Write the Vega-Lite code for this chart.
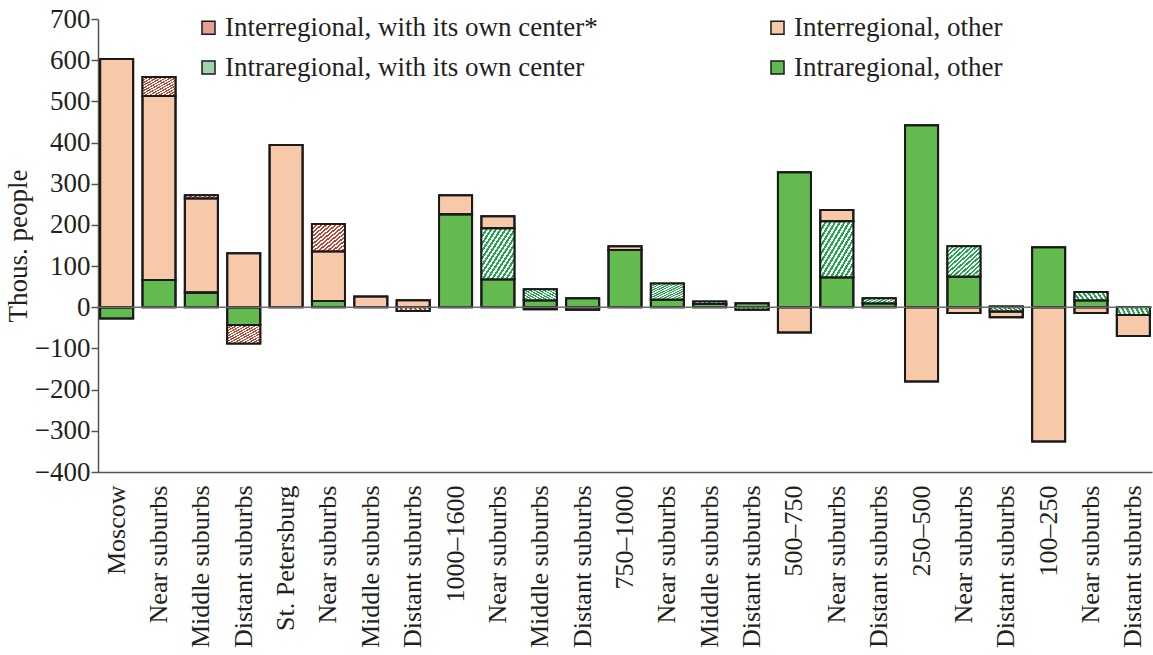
{
  "$schema": "https://vega.github.io/schema/vega-lite/v6.json",
  "autosize": {"type": "none"},
  "padding": {"left": 98, "top": 19, "right": 1, "bottom": 183},
  "width": 1054,
  "height": 453,
  "background": "white",
  "config": {
    "font": "Liberation Serif",
    "view": {"stroke": null},
    "axis": {"labelColor": "#231f20", "titleColor": "#231f20", "domainColor": "#555555", "tickColor": "#555555", "grid": false}
  },
  "data": {
    "values": [
      {"i": 0, "cat": "Intraregional, other", "ord": 1, "v": -27},
      {"i": 0, "cat": "Interregional, other", "ord": 3, "v": 603},
      {"i": 1, "cat": "Intraregional, other", "ord": 1, "v": 66},
      {"i": 1, "cat": "Interregional, other", "ord": 3, "v": 447},
      {"i": 1, "cat": "Interregional, with its own center*", "ord": 4, "v": 46},
      {"i": 2, "cat": "Intraregional, other", "ord": 1, "v": 36},
      {"i": 2, "cat": "Interregional, other", "ord": 3, "v": 229},
      {"i": 2, "cat": "Interregional, with its own center*", "ord": 4, "v": 7},
      {"i": 3, "cat": "Interregional, other", "ord": 3, "v": 131},
      {"i": 3, "cat": "Intraregional, other", "ord": 1, "v": -43},
      {"i": 3, "cat": "Interregional, with its own center*", "ord": 4, "v": -45},
      {"i": 4, "cat": "Interregional, other", "ord": 3, "v": 394},
      {"i": 5, "cat": "Intraregional, other", "ord": 1, "v": 15},
      {"i": 5, "cat": "Interregional, other", "ord": 3, "v": 121},
      {"i": 5, "cat": "Interregional, with its own center*", "ord": 4, "v": 66},
      {"i": 6, "cat": "Interregional, other", "ord": 3, "v": 26},
      {"i": 7, "cat": "Interregional, other", "ord": 3, "v": 17},
      {"i": 7, "cat": "Interregional, with its own center*", "ord": 4, "v": -9},
      {"i": 8, "cat": "Intraregional, other", "ord": 1, "v": 226},
      {"i": 8, "cat": "Interregional, other", "ord": 3, "v": 46},
      {"i": 9, "cat": "Intraregional, other", "ord": 1, "v": 68},
      {"i": 9, "cat": "Intraregional, with its own center", "ord": 2, "v": 124},
      {"i": 9, "cat": "Interregional, other", "ord": 3, "v": 29},
      {"i": 10, "cat": "Intraregional, other", "ord": 1, "v": 17},
      {"i": 10, "cat": "Intraregional, with its own center", "ord": 2, "v": 27},
      {"i": 10, "cat": "Interregional, other", "ord": 3, "v": -5},
      {"i": 11, "cat": "Intraregional, other", "ord": 1, "v": 22},
      {"i": 11, "cat": "Interregional, other", "ord": 3, "v": -6},
      {"i": 12, "cat": "Intraregional, other", "ord": 1, "v": 139},
      {"i": 12, "cat": "Interregional, other", "ord": 3, "v": 9},
      {"i": 13, "cat": "Intraregional, other", "ord": 1, "v": 19},
      {"i": 13, "cat": "Intraregional, with its own center", "ord": 2, "v": 39},
      {"i": 14, "cat": "Intraregional, other", "ord": 1, "v": 8},
      {"i": 14, "cat": "Intraregional, with its own center", "ord": 2, "v": 6},
      {"i": 15, "cat": "Intraregional, other", "ord": 1, "v": 10},
      {"i": 15, "cat": "Intraregional, with its own center", "ord": 2, "v": -6},
      {"i": 16, "cat": "Intraregional, other", "ord": 1, "v": 328},
      {"i": 16, "cat": "Interregional, other", "ord": 3, "v": -61},
      {"i": 17, "cat": "Intraregional, other", "ord": 1, "v": 73},
      {"i": 17, "cat": "Intraregional, with its own center", "ord": 2, "v": 136},
      {"i": 17, "cat": "Interregional, other", "ord": 3, "v": 27},
      {"i": 18, "cat": "Intraregional, other", "ord": 1, "v": 10},
      {"i": 18, "cat": "Intraregional, with its own center", "ord": 2, "v": 12},
      {"i": 19, "cat": "Intraregional, other", "ord": 1, "v": 442},
      {"i": 19, "cat": "Interregional, other", "ord": 3, "v": -180},
      {"i": 20, "cat": "Intraregional, other", "ord": 1, "v": 75},
      {"i": 20, "cat": "Intraregional, with its own center", "ord": 2, "v": 73},
      {"i": 20, "cat": "Interregional, other", "ord": 3, "v": -14},
      {"i": 21, "cat": "Intraregional, other", "ord": 1, "v": 2},
      {"i": 21, "cat": "Intraregional, with its own center", "ord": 2, "v": -10},
      {"i": 21, "cat": "Interregional, other", "ord": 3, "v": -14},
      {"i": 22, "cat": "Intraregional, other", "ord": 1, "v": 146},
      {"i": 22, "cat": "Interregional, other", "ord": 3, "v": -326},
      {"i": 23, "cat": "Intraregional, other", "ord": 1, "v": 17},
      {"i": 23, "cat": "Intraregional, with its own center", "ord": 2, "v": 20},
      {"i": 23, "cat": "Interregional, other", "ord": 3, "v": -14},
      {"i": 24, "cat": "Intraregional, with its own center", "ord": 2, "v": -19},
      {"i": 24, "cat": "Interregional, other", "ord": 3, "v": -51}
    ]
  },
  "encoding": {
    "x": {
      "field": "i",
      "type": "ordinal",
      "scale": {"domain": [0,1,2,3,4,5,6,7,8,9,10,11,12,13,14,15,16,17,18,19,20,21,22,23,24], "paddingInner": 0.22, "paddingOuter": 0.05},
      "axis": {
        "title": null,
        "ticks": false,
        "labelAngle": -90,
        "labelAlign": "right",
        "labelBaseline": "middle",
        "labelPadding": 13,
        "labelFontSize": 26,
        "labelLimit": 300,
        "domainWidth": 1.5,
        "labelExpr": "['Moscow','Near suburbs','Middle suburbs','Distant suburbs','St. Petersburg','Near suburbs','Middle suburbs','Distant suburbs','1000–1600','Near suburbs','Middle suburbs','Distant suburbs','750–1000','Near suburbs','Middle suburbs','Distant suburbs','500–750','Near suburbs','Distant suburbs','250–500','Near suburbs','Distant suburbs','100–250','Near suburbs','Distant suburbs'][datum.value]"
      }
    },
    "y": {
      "field": "v",
      "type": "quantitative",
      "stack": "zero",
      "scale": {"domain": [-400, 700], "nice": false, "zero": false},
      "axis": {
        "title": "Thous. people",
        "titleFontSize": 27,
        "titleFontWeight": "normal",
        "titlePadding": 2,
        "values": [-400,-300,-200,-100,0,100,200,300,400,500,600,700],
        "labelFontSize": 27,
        "labelPadding": 1,
        "tickSize": 7,
        "tickWidth": 1.5,
        "domainWidth": 1.5
      }
    },
    "order": {"field": "ord", "type": "quantitative"}
  },
  "layer": [
    {
      "mark": {"type": "bar", "stroke": "#1a1a1a", "strokeWidth": 2},
      "encoding": {
        "fill": {
          "field": "cat",
          "type": "nominal",
          "scale": {
            "domain": ["Interregional, with its own center*", "Interregional, other", "Intraregional, with its own center", "Intraregional, other"],
            "range": ["#e3a090", "#f8c9a8", "#9ed4a8", "#63bb4f"]
          },
          "legend": {
            "title": null,
            "orient": "none",
            "direction": "horizontal",
            "legendX": 97,
            "legendY": -5,
            "columns": 2,
            "columnPadding": 166,
            "rowPadding": 12,
            "symbolType": "square",
            "symbolSize": 170,
            "symbolStrokeColor": "#1a1a1a",
            "symbolStrokeWidth": 1.5,
            "labelFontSize": 27,
            "labelColor": "#231f20",
            "labelOffset": 3,
            "labelLimit": 500,
            "encoding": {
              "symbols": {
                "update": {
                  "fill": [
                    {"test": "datum.value === 'Interregional, with its own center*'", "value": {"gradient": "linear", "x1": 0, "y1": 0, "x2": 1, "y2": 1, "stops": [
                      {"offset": 0, "color": "#c0432f"}, {"offset": 0.125, "color": "#c0432f"}, {"offset": 0.125, "color": "#ffffff"}, {"offset": 0.25, "color": "#ffffff"},
                      {"offset": 0.25, "color": "#c0432f"}, {"offset": 0.375, "color": "#c0432f"}, {"offset": 0.375, "color": "#ffffff"}, {"offset": 0.5, "color": "#ffffff"},
                      {"offset": 0.5, "color": "#c0432f"}, {"offset": 0.625, "color": "#c0432f"}, {"offset": 0.625, "color": "#ffffff"}, {"offset": 0.75, "color": "#ffffff"},
                      {"offset": 0.75, "color": "#c0432f"}, {"offset": 0.875, "color": "#c0432f"}, {"offset": 0.875, "color": "#ffffff"}, {"offset": 1, "color": "#ffffff"}
                    ]}},
                    {"test": "datum.value === 'Intraregional, with its own center'", "value": {"gradient": "linear", "x1": 0, "y1": 0, "x2": 1, "y2": 1, "stops": [
                      {"offset": 0, "color": "#22a84c"}, {"offset": 0.125, "color": "#22a84c"}, {"offset": 0.125, "color": "#ffffff"}, {"offset": 0.25, "color": "#ffffff"},
                      {"offset": 0.25, "color": "#22a84c"}, {"offset": 0.375, "color": "#22a84c"}, {"offset": 0.375, "color": "#ffffff"}, {"offset": 0.5, "color": "#ffffff"},
                      {"offset": 0.5, "color": "#22a84c"}, {"offset": 0.625, "color": "#22a84c"}, {"offset": 0.625, "color": "#ffffff"}, {"offset": 0.75, "color": "#ffffff"},
                      {"offset": 0.75, "color": "#22a84c"}, {"offset": 0.875, "color": "#22a84c"}, {"offset": 0.875, "color": "#ffffff"}, {"offset": 1, "color": "#ffffff"}
                    ]}},
                    {"scale": "fill", "field": "value"}
                  ]
                }
              }
            }
          }
        }
      }
    },
    {
      "mark": {"type": "bar", "stroke": "#1a1a1a", "strokeWidth": 2},
      "encoding": {
        "fill": {
          "condition": [
            {"test": "datum.cat === 'Interregional, with its own center*'", "value": {"gradient": "linear", "x1": 0, "y1": 0, "x2": 1, "y2": 1, "stops": [
                {"offset": 0, "color": "#c0432f"}, {"offset": 0.0357, "color": "#c0432f"}, {"offset": 0.0357, "color": "#ffffff"},
                {"offset": 0.0714, "color": "#ffffff"}, {"offset": 0.0714, "color": "#c0432f"}, {"offset": 0.1071, "color": "#c0432f"}, {"offset": 0.1071, "color": "#ffffff"},
                {"offset": 0.1429, "color": "#ffffff"}, {"offset": 0.1429, "color": "#c0432f"}, {"offset": 0.1786, "color": "#c0432f"}, {"offset": 0.1786, "color": "#ffffff"},
                {"offset": 0.2143, "color": "#ffffff"}, {"offset": 0.2143, "color": "#c0432f"}, {"offset": 0.25, "color": "#c0432f"}, {"offset": 0.25, "color": "#ffffff"},
                {"offset": 0.2857, "color": "#ffffff"}, {"offset": 0.2857, "color": "#c0432f"}, {"offset": 0.3214, "color": "#c0432f"}, {"offset": 0.3214, "color": "#ffffff"},
                {"offset": 0.3571, "color": "#ffffff"}, {"offset": 0.3571, "color": "#c0432f"}, {"offset": 0.3929, "color": "#c0432f"}, {"offset": 0.3929, "color": "#ffffff"},
                {"offset": 0.4286, "color": "#ffffff"}, {"offset": 0.4286, "color": "#c0432f"}, {"offset": 0.4643, "color": "#c0432f"}, {"offset": 0.4643, "color": "#ffffff"},
                {"offset": 0.5, "color": "#ffffff"}, {"offset": 0.5, "color": "#c0432f"}, {"offset": 0.5357, "color": "#c0432f"}, {"offset": 0.5357, "color": "#ffffff"},
                {"offset": 0.5714, "color": "#ffffff"}, {"offset": 0.5714, "color": "#c0432f"}, {"offset": 0.6071, "color": "#c0432f"}, {"offset": 0.6071, "color": "#ffffff"},
                {"offset": 0.6429, "color": "#ffffff"}, {"offset": 0.6429, "color": "#c0432f"}, {"offset": 0.6786, "color": "#c0432f"}, {"offset": 0.6786, "color": "#ffffff"},
                {"offset": 0.7143, "color": "#ffffff"}, {"offset": 0.7143, "color": "#c0432f"}, {"offset": 0.75, "color": "#c0432f"}, {"offset": 0.75, "color": "#ffffff"},
                {"offset": 0.7857, "color": "#ffffff"}, {"offset": 0.7857, "color": "#c0432f"}, {"offset": 0.8214, "color": "#c0432f"}, {"offset": 0.8214, "color": "#ffffff"},
                {"offset": 0.8571, "color": "#ffffff"}, {"offset": 0.8571, "color": "#c0432f"}, {"offset": 0.8929, "color": "#c0432f"}, {"offset": 0.8929, "color": "#ffffff"},
                {"offset": 0.9286, "color": "#ffffff"}, {"offset": 0.9286, "color": "#c0432f"}, {"offset": 0.9643, "color": "#c0432f"}, {"offset": 0.9643, "color": "#ffffff"},
                {"offset": 1, "color": "#ffffff"}
              ]}},
            {"test": "datum.cat === 'Intraregional, with its own center'", "value": {"gradient": "linear", "x1": 0, "y1": 0, "x2": 1, "y2": 1, "stops": [
                {"offset": 0, "color": "#22a84c"}, {"offset": 0.0357, "color": "#22a84c"}, {"offset": 0.0357, "color": "#ffffff"},
                {"offset": 0.0714, "color": "#ffffff"}, {"offset": 0.0714, "color": "#22a84c"}, {"offset": 0.1071, "color": "#22a84c"}, {"offset": 0.1071, "color": "#ffffff"},
                {"offset": 0.1429, "color": "#ffffff"}, {"offset": 0.1429, "color": "#22a84c"}, {"offset": 0.1786, "color": "#22a84c"}, {"offset": 0.1786, "color": "#ffffff"},
                {"offset": 0.2143, "color": "#ffffff"}, {"offset": 0.2143, "color": "#22a84c"}, {"offset": 0.25, "color": "#22a84c"}, {"offset": 0.25, "color": "#ffffff"},
                {"offset": 0.2857, "color": "#ffffff"}, {"offset": 0.2857, "color": "#22a84c"}, {"offset": 0.3214, "color": "#22a84c"}, {"offset": 0.3214, "color": "#ffffff"},
                {"offset": 0.3571, "color": "#ffffff"}, {"offset": 0.3571, "color": "#22a84c"}, {"offset": 0.3929, "color": "#22a84c"}, {"offset": 0.3929, "color": "#ffffff"},
                {"offset": 0.4286, "color": "#ffffff"}, {"offset": 0.4286, "color": "#22a84c"}, {"offset": 0.4643, "color": "#22a84c"}, {"offset": 0.4643, "color": "#ffffff"},
                {"offset": 0.5, "color": "#ffffff"}, {"offset": 0.5, "color": "#22a84c"}, {"offset": 0.5357, "color": "#22a84c"}, {"offset": 0.5357, "color": "#ffffff"},
                {"offset": 0.5714, "color": "#ffffff"}, {"offset": 0.5714, "color": "#22a84c"}, {"offset": 0.6071, "color": "#22a84c"}, {"offset": 0.6071, "color": "#ffffff"},
                {"offset": 0.6429, "color": "#ffffff"}, {"offset": 0.6429, "color": "#22a84c"}, {"offset": 0.6786, "color": "#22a84c"}, {"offset": 0.6786, "color": "#ffffff"},
                {"offset": 0.7143, "color": "#ffffff"}, {"offset": 0.7143, "color": "#22a84c"}, {"offset": 0.75, "color": "#22a84c"}, {"offset": 0.75, "color": "#ffffff"},
                {"offset": 0.7857, "color": "#ffffff"}, {"offset": 0.7857, "color": "#22a84c"}, {"offset": 0.8214, "color": "#22a84c"}, {"offset": 0.8214, "color": "#ffffff"},
                {"offset": 0.8571, "color": "#ffffff"}, {"offset": 0.8571, "color": "#22a84c"}, {"offset": 0.8929, "color": "#22a84c"}, {"offset": 0.8929, "color": "#ffffff"},
                {"offset": 0.9286, "color": "#ffffff"}, {"offset": 0.9286, "color": "#22a84c"}, {"offset": 0.9643, "color": "#22a84c"}, {"offset": 0.9643, "color": "#ffffff"},
                {"offset": 1, "color": "#ffffff"}
              ]}}
          ],
          "value": "transparent"
        }
      }
    },
    {
      "data": {"values": [{"v": 0}]},
      "mark": {"type": "rule", "color": "#6e6e6e", "strokeWidth": 1.3},
      "encoding": {"y": {"field": "v", "type": "quantitative"}, "x": null, "order": null}
    }
  ]
}
